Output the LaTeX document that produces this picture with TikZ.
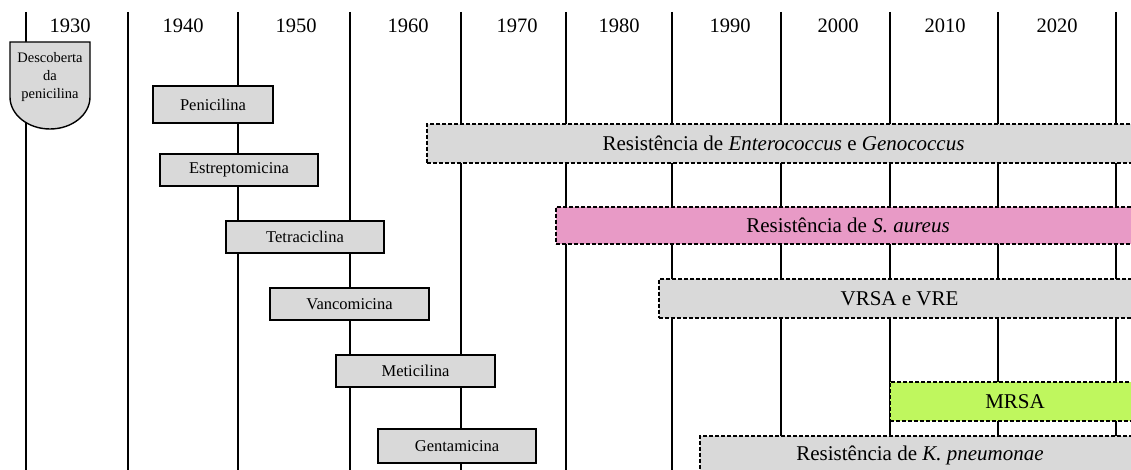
\documentclass[tikz,border=0pt]{standalone}
\usepackage{fontspec}
\setmainfont{Liberation Serif}
\definecolor{boxgrey}{RGB}{217,217,217}
\definecolor{pinkf}{RGB}{232,154,198}
\definecolor{greenf}{RGB}{191,247,94}
\begin{document}
\begin{tikzpicture}[x=1pt,y=-1pt,
  vline/.style={line width=1.8pt},
  drug/.style={draw=black, line width=1.4pt, fill=boxgrey, inner sep=0pt, font=\fontsize{16.5}{19}\selectfont, minimum height=32pt},
  res/.style={draw=black, line width=1.3pt, dash pattern=on 4pt off 2pt, fill=boxgrey, inner sep=0pt, font=\fontsize{21}{25}\selectfont, minimum height=38pt},
  year/.style={font=\fontsize{20.5}{24}\selectfont, anchor=base, inner sep=0pt},
  shield/.style={draw=black, line width=1.4pt, fill=boxgrey}]
\useasboundingbox (0,0) rectangle (1131,470);
\clip (0,0) rectangle (1131,470);
\fill[white] (0,0) rectangle (1131,470);
% vertical year lines
\foreach \x in {26,128,238,350,461,566,672,781,890,998,1116}
  \draw[vline] (\x,12) -- (\x,471);
% year labels
\node[year] (y1930) at (70,33) {1930};
\node[year] (y1940) at (183,33) {1940};
\node[year] (y1950) at (296,33) {1950};
\node[year] (y1960) at (408,33) {1960};
\node[year] (y1970) at (517,33) {1970};
\node[year] (y1980) at (619,33) {1980};
\node[year] (y1990) at (730,33) {1990};
\node[year] (y2000) at (838,33) {2000};
\node[year] (y2010) at (945,33) {2010};
\node[year] (y2020) at (1057,33) {2020};
% discovery shield
\draw[shield] (10,42) -- (90,42) -- (90,97)
  arc[start angle=0, end angle=-180, x radius=40pt, y radius=32pt] -- cycle;
\node[align=center, font=\fontsize{14.5}{18}\selectfont, inner sep=0pt] (desc) at (50,77) {Descoberta\\da\\penicilina};
% antibiotics
\node[drug, minimum width=120pt, minimum height=37pt] (pen) at (213,104.5) {Penicilina};
\node[drug, minimum width=158pt] (estr) at (239,170) {Estreptomicina};
\node[drug, minimum width=158pt] (tetra) at (305,237) {Tetraciclina};
\node[drug, minimum width=159pt] (vanco) at (349.5,304) {Vancomicina};
\node[drug, minimum width=159pt] (meti) at (415.5,371) {Meticilina};
\node[drug, minimum width=158pt, minimum height=34pt] (genta) at (457,446) {Gentamicina};
% resistance bars
\node[res, minimum width=713pt, minimum height=39pt] (entero) at (783.5,143.5) {Resistência de \textit{Enterococcus} e \textit{Genococcus}};
\node[res, fill=pinkf, minimum width=584pt, minimum height=37pt] (saur) at (848,225.5) {Resistência de \textit{S. aureus}};
\node[res, minimum width=481pt, minimum height=39pt] (vrsa) at (899.5,298.5) {VRSA e VRE};
\node[res, fill=greenf, minimum width=250pt, minimum height=39pt] (mrsa) at (1015,401.5) {MRSA};
\node[res, minimum width=440pt, minimum height=39pt] (kpn) at (920,455.5) {Resistência de \textit{K. pneumonae}};
\end{tikzpicture}
\end{document}
